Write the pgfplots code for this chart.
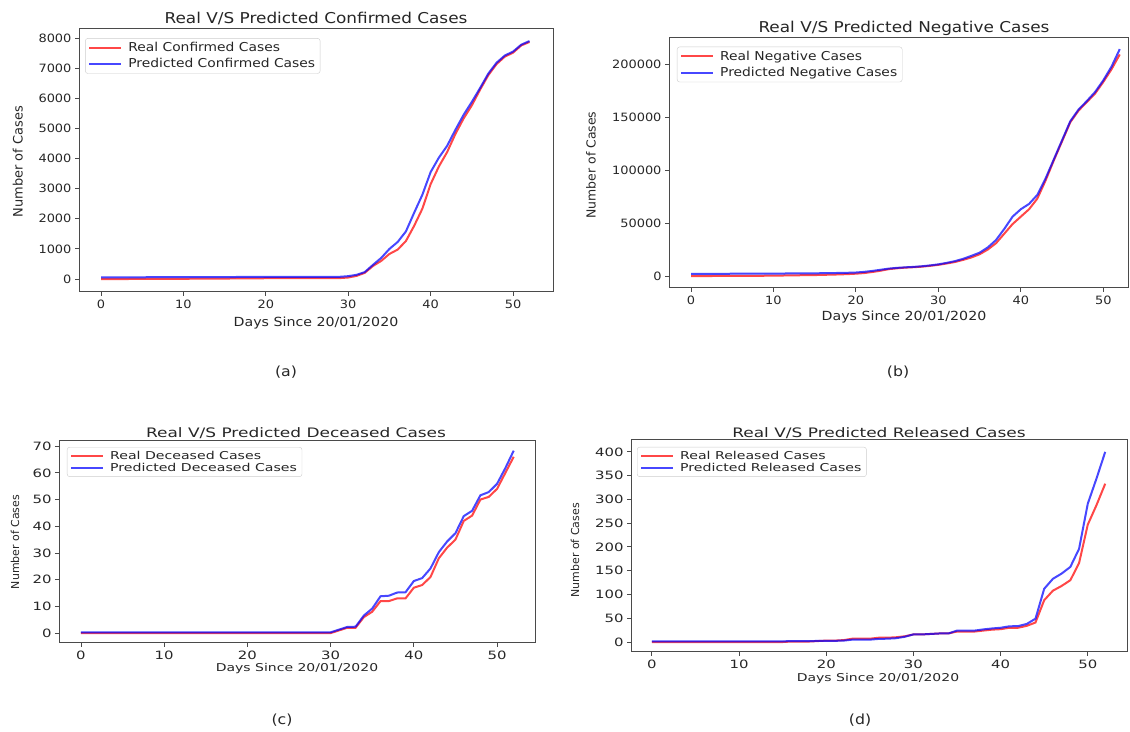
\documentclass[border=0pt]{standalone}
\usepackage{pgfplots}
\pgfplotsset{compat=1.18}
\usepackage{fontspec}
\setmainfont{DejaVu Sans}
\newfontfamily\topf{DejaVu Sans}[FakeStretch=1.13]
\newfontfamily\botf{DejaVu Sans}[FakeStretch=1.3]
\definecolor{realc}{HTML}{FF0000}
\definecolor{predc}{HTML}{0000FF}
\definecolor{spine}{HTML}{4A4A4A}

\pgfplotsset{
  every axis title shift=0pt,
  panel/.style={
    scale only axis, anchor=south west,
    axis line style={spine, line width=1bp},
    xtick pos=left, ytick pos=left,
    tick align=outside, major tick length=4bp,
    tick style={spine, line width=0.9bp},
    xtick={0,10,20,30,40,50},
    /pgf/number format/fixed,
    /pgf/number format/assume math mode=true,
    /pgf/number format/1000 sep={},
    scaled y ticks=false,
    legend cell align=left,
    legend image code/.code={\draw[##1, line width=2bp] (0bp,0bp) -- (32bp,0bp); \path (36bp,0bp);},
    legend style={anchor=north west, draw=black!20, rounded corners=2.5bp, fill=white},
    xlabel={Days Since 20/01/2020},
    ylabel={Number of Cases},
  },
  real/.style={realc, opacity=0.72, line width=2bp},
  pred/.style={predc, opacity=0.72, line width=2bp},
  toptext/.style={
    ticklabel style={font=\fontsize{11.5}{13}\topf, text=black!85},
    title style={font=\fontsize{15}{17}\topf, text=black!85, anchor=base},
    xlabel style={font=\fontsize{12.6}{14}\topf, text=black!85, anchor=center},
    ylabel style={font=\fontsize{13}{15}\rmfamily, text=black!85, anchor=center},
    legend style={font=\fontsize{12.3}{14}\topf, text=black!85, row sep=1.5bp},
  },
  bottext/.style={
    ticklabel style={font=\fontsize{11.5}{13}\botf, text=black!85},
    title style={font=\fontsize{13.1}{15}\botf, text=black!85, anchor=base},
    xlabel style={font=\fontsize{10.8}{12}\botf, text=black!85, anchor=center},
    ylabel style={font=\fontsize{11}{13}\rmfamily, text=black!85, anchor=center},
    legend style={font=\fontsize{10.9}{12}\botf, text=black!85, row sep=-2bp},
  },
}

\begin{document}
\begin{tikzpicture}
\path[use as bounding box] (0bp,0bp) rectangle (1130bp,732bp);

% (a) confirmed
\begin{axis}[panel, toptext,
  at={(79bp,440bp)}, width=474bp, height=263bp,
  xmin=-2.67, xmax=54.85, ymin=-430, ymax=8300,
  ytick={0,1000,...,8000},
  title={Real V/S Predicted Confirmed Cases},
  title style={at={(axis description cs:0.5,1.021)}},
  xlabel style={at={(axis description cs:0.5,-0.118)}},
  ylabel style={at={(axis description cs:-0.129,0.496)}},
  legend style={at={(0.013,0.965)}},
]
\addplot[real] coordinates {
(0,1) (1,1) (2,1) (3,1) (4,2) (5,2) (6,3) (7,4) (8,4) (9,4) (10,6) (11,11) (12,12)
(13,15) (14,15) (15,16) (16,19) (17,23) (18,24) (19,24) (20,27) (21,28) (22,28)
(23,28) (24,28) (25,28) (26,29) (27,30) (28,31) (29,31) (30,51) (31,104) (32,204)
(33,433) (34,602) (35,833) (36,977) (37,1261) (38,1766) (39,2337) (40,3150)
(41,3736) (42,4212) (43,4812) (44,5328) (45,5766) (46,6284) (47,6767) (48,7134)
(49,7382) (50,7513) (51,7755) (52,7869)};
\addplot[pred] coordinates {
(0,58) (1,58) (2,58) (3,58) (4,59) (5,59) (6,60) (7,60) (8,60) (9,60) (10,61) (11,63)
(12,64) (13,65) (14,65) (15,66) (16,67) (17,69) (18,70) (19,70) (20,71) (21,72)
(22,72) (23,72) (24,72) (25,72) (26,73) (27,74) (28,75) (29,75) (30,95) (31,140)
(32,230) (33,470) (34,700) (35,1000) (36,1230) (37,1580) (38,2200) (39,2800)
(40,3550) (41,4030) (42,4420) (43,4950) (44,5450) (45,5880) (46,6340) (47,6820)
(48,7180) (49,7420) (50,7550) (51,7780) (52,7900)};
\legend{Real Confirmed Cases, Predicted Confirmed Cases}
\end{axis}

% (b) negative
\begin{axis}[panel, toptext,
  at={(669bp,444bp)}, width=459bp, height=250bp,
  xmin=-2.67, xmax=53.0, ymin=-11300, ymax=224500,
  ytick={0,50000,100000,150000,200000},
  title={Real V/S Predicted Negative Cases},
  title style={at={(axis description cs:0.512,1.022)}},
  xlabel style={at={(axis description cs:0.512,-0.116)}},
  ylabel style={at={(axis description cs:-0.170,0.492)}, font=\fontsize{12.5}{14}\rmfamily},
  legend style={at={(0.0174,0.965)}},
]
\addplot[real] coordinates {
(0,0) (1,0) (2,4) (3,20) (4,45) (5,60) (6,80) (7,120) (8,180) (9,260) (10,350)
(11,450) (12,600) (13,700) (14,800) (15,900) (16,1100) (17,1300) (18,1500) (19,1800)
(20,2200) (21,2800) (22,3800) (23,5000) (24,6500) (25,7300) (26,7900) (27,8300)
(28,8800) (29,9600) (30,10500) (31,11800) (32,13200) (33,15200) (34,17500)
(35,20500) (36,25000) (37,31000) (38,40000) (39,49000) (40,56000) (41,63000)
(42,73000) (43,90000) (44,109000) (45,127000) (46,145000) (47,156000) (48,164000)
(49,172000) (50,183000) (51,195000) (52,209000)};
\addplot[pred] coordinates {
(0,2100) (1,2100) (2,2100) (3,2100) (4,2100) (5,2150) (6,2150) (7,2200) (8,2200)
(9,2250) (10,2300) (11,2350) (12,2400) (13,2450) (14,2500) (15,2550) (16,2650)
(17,2750) (18,2900) (19,3050) (20,3300) (21,3900) (22,4800) (23,5900) (24,7000)
(25,7700) (26,8200) (27,8600) (28,9200) (29,10000) (30,11000) (31,12400) (32,14000)
(33,16200) (34,19000) (35,22000) (36,27000) (37,34000) (38,44500) (39,56000)
(40,63000) (41,68000) (42,76500) (43,92000) (44,110000) (45,128000) (46,146000)
(47,157000) (48,165000) (49,173500) (50,184500) (51,197500) (52,214000)};
\legend{Real Negative Cases, Predicted Negative Cases}
\end{axis}

% (c) deceased
\begin{axis}[panel, bottext,
  at={(59bp,89bp)}, width=476bp, height=203bp,
  xmin=-2.64, xmax=54.56, ymin=-3.7, ymax=72.3,
  ytick={0,10,...,70},
  title={Real V/S Predicted Deceased Cases},
  title style={at={(axis description cs:0.498,1.01)}},
  xlabel style={at={(axis description cs:0.5,-0.125)}},
  ylabel style={at={(axis description cs:-0.0924,0.4975)}},
  legend style={at={(0.0168,0.9655)}},
]
\addplot[real] coordinates {
(0,0) (1,0) (2,0) (3,0) (4,0) (5,0) (6,0) (7,0) (8,0) (9,0) (10,0) (11,0) (12,0)
(13,0) (14,0) (15,0) (16,0) (17,0) (18,0) (19,0) (20,0) (21,0) (22,0) (23,0) (24,0)
(25,0) (26,0) (27,0) (28,0) (29,0) (30,0) (31,1) (32,2) (33,2) (34,6) (35,8) (36,12)
(37,12) (38,13) (39,13) (40,17) (41,18) (42,21) (43,28) (44,32) (45,35) (46,42)
(47,44) (48,50) (49,51) (50,54) (51,60) (52,66)};
\addplot[pred] coordinates {
(0,0.3) (1,0.3) (2,0.3) (3,0.3) (4,0.3) (5,0.3) (6,0.3) (7,0.3) (8,0.3) (9,0.3)
(10,0.3) (11,0.3) (12,0.3) (13,0.3) (14,0.3) (15,0.3) (16,0.3) (17,0.3) (18,0.3)
(19,0.3) (20,0.3) (21,0.3) (22,0.3) (23,0.3) (24,0.3) (25,0.3) (26,0.3) (27,0.3)
(28,0.3) (29,0.3) (30,0.3) (31,1.3) (32,2.3) (33,2.4) (34,6.6) (35,9.2) (36,13.8)
(37,14) (38,15.2) (39,15.3) (40,19.5) (41,20.6) (42,24.2) (43,30.3) (44,34.3)
(45,37.4) (46,43.8) (47,45.8) (48,51.6) (49,52.8) (50,55.9) (51,61.8) (52,68.3)};
\legend{Real Deceased Cases, Predicted Deceased Cases}
\end{axis}

% (d) released
\begin{axis}[panel, bottext,
  at={(631bp,80bp)}, width=496bp, height=212bp,
  xmin=-2.4, xmax=54.5, ymin=-21, ymax=425,
  ytick={0,50,...,400},
  title={Real V/S Predicted Released Cases},
  title style={at={(axis description cs:0.5,1.01)}},
  xlabel style={at={(axis description cs:0.498,-0.125)}},
  ylabel style={at={(axis description cs:-0.113,0.48)}},
  legend style={at={(0.0121,0.967)}},
]
\addplot[real] coordinates {
(0,0) (1,0) (2,0) (3,0) (4,0) (5,0) (6,0) (7,0) (8,0) (9,0) (10,0) (11,0) (12,0)
(13,0) (14,0) (15,0) (16,1) (17,1) (18,1) (19,2) (20,3) (21,3) (22,4) (23,7) (24,7)
(25,7) (26,9) (27,9) (28,10) (29,12) (30,16) (31,16) (32,17) (33,18) (34,18) (35,22)
(36,22) (37,22) (38,24) (39,26) (40,27) (41,30) (42,30) (43,34) (44,41) (45,88)
(46,108) (47,118) (48,130) (49,166) (50,247) (51,288) (52,333)};
\addplot[pred] coordinates {
(0,1.5) (1,1.5) (2,1.5) (3,1.5) (4,1.5) (5,1.5) (6,1.5) (7,1.5) (8,1.5) (9,1.5)
(10,1.5) (11,1.5) (12,1.5) (13,1.5) (14,1.5) (15,1.5) (16,1.8) (17,2) (18,2)
(19,2.2) (20,2.5) (21,2.5) (22,3) (23,5) (24,5) (25,5) (26,6.5) (27,7) (28,8)
(29,11) (30,16) (31,16) (32,17) (33,18) (34,18) (35,24) (36,24) (37,24) (38,26.5)
(39,28.5) (40,30) (41,33) (42,33.5) (43,38) (44,49) (45,112) (46,133) (47,144)
(48,158) (49,196) (50,291) (51,344) (52,400)};
\legend{Real Released Cases, Predicted Released Cases}
\end{axis}

\node[font=\fontsize{14}{16}\topf, text=black!85] at (286bp,360bp) {(a)};
\node[font=\fontsize{14}{16}\topf, text=black!85] at (898bp,360bp) {(b)};
\node[font=\fontsize{14}{16}\topf, text=black!85] at (282bp,12bp) {(c)};
\node[font=\fontsize{14}{16}\topf, text=black!85] at (860bp,12bp) {(d)};
\end{tikzpicture}
\end{document}
